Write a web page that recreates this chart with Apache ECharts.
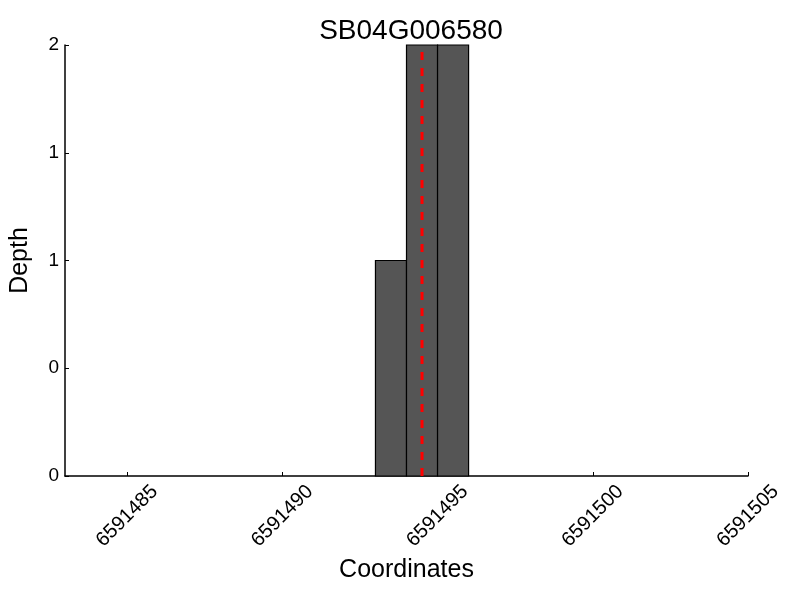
<!DOCTYPE html>
<html>
<head>
<meta charset="utf-8">
<script src="https://cdn.jsdelivr.net/npm/echarts@6/dist/echarts.min.js"></script>
<style>html,body{margin:0;padding:0;background:#fff}#c{width:800px;height:600px}</style>
</head>
<body>
<div id="c"></div>
<script>
const titleText = 'SB04G006580';
const binStarts = [6591493, 6591494, 6591495];
const binEnds = [6591494, 6591495, 6591496];
const depths = [1, 2, 2];
const markerX = 6591494.5;
const markerTop = 1.97;
const xTicks = [6591485, 6591490, 6591495, 6591500, 6591505];
const xMin = 6591483, xMax = 6591505;
const yMin = 0, yMax = 2, yStep = 0.5;

const font = 'Liberation Sans';
const chart = echarts.init(document.getElementById('c'));
chart.setOption({
  animation: false,
  backgroundColor: '#fff',
  title: {
    text: titleText, left: 406, top: 12, textAlign: 'center',
    textStyle: {fontFamily: font, fontSize: 28, fontWeight: 'normal', color: '#000'}
  },
  grid: {left: 65, right: 52, top: 45, bottom: 124},
  xAxis: {
    type: 'value', min: xMin, max: xMax,
    name: 'Coordinates', nameLocation: 'middle', nameGap: 78,
    nameTextStyle: {fontFamily: font, fontSize: 25, color: '#000'},
    axisLine: {show: true, onZero: false, lineStyle: {color: '#000', width: 1.5}},
    axisTick: {show: true, inside: true, length: 4, customValues: xTicks, lineStyle: {color: '#000'}},
    axisLabel: {customValues: xTicks, rotate: 45, align: 'center', verticalAlign: 'middle', margin: 40,
      fontFamily: font, fontSize: 20, color: '#000', formatter: v => String(v)},
    splitLine: {show: false}
  },
  yAxis: {
    type: 'value', min: yMin, max: yMax, interval: yStep,
    name: 'Depth', nameLocation: 'middle', nameGap: 32,
    nameTextStyle: {fontFamily: font, fontSize: 25, color: '#000'},
    axisLine: {show: true, lineStyle: {color: '#000', width: 1.5}},
    axisTick: {show: true, inside: true, length: 4, lineStyle: {color: '#000'}},
    axisLabel: {margin: 6, fontFamily: font, fontSize: 19, color: '#000', formatter: v => String(Math.floor(v))},
    splitLine: {show: false}
  },
  series: [
    {
      type: 'custom',
      data: binStarts.map((s, i) => [s, binEnds[i], depths[i]]),
      renderItem: function (params, api) {
        const p0 = api.coord([api.value(0), 0]);
        const p1 = api.coord([api.value(1), api.value(2)]);
        return {
          type: 'rect',
          shape: {x: p0[0], y: p1[1], width: p1[0] - p0[0], height: p0[1] - p1[1]},
          style: {fill: '#555555', stroke: '#000', lineWidth: 1.2}
        };
      }
    },
    {
      type: 'line',
      data: [[markerX, 0], [markerX, markerTop]],
      symbol: 'none',
      lineStyle: {color: '#ff0000', width: 3, type: [8, 8]},
      z: 5
    }
  ]
});
</script>
</body>
</html>
